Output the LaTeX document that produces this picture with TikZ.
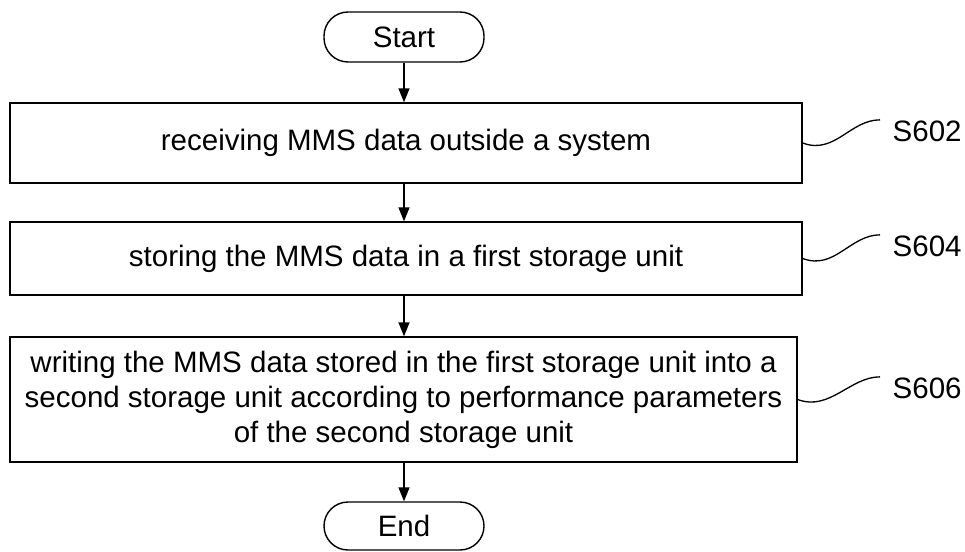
\documentclass[tikz,border=0pt]{standalone}
\usepackage{fontspec}
\setmainfont{Liberation Sans}
\usetikzlibrary{arrows.meta}

\begin{document}
\begin{tikzpicture}[x=1pt, y=-1pt, line width=1.4pt,
        every node/.style={font=\fontsize{29.5}{35}\selectfont},
        term/.style={draw, rounded corners=24pt, minimum width=160pt, minimum height=50pt, inner sep=0pt},
        stepbox/.style={draw, align=center, inner sep=0pt},
        steplabel/.style={anchor=west, inner sep=0pt},
        flow/.style={-{Triangle[length=14pt, width=11pt]}},
        lead/.style={line width=1.3pt}]
            \useasboundingbox (0,0) rectangle (965,551);

            \node[term] (Start) at (404,37) {Start};
            \node[stepbox, minimum width=792pt, minimum height=80pt] (S602) at (406,143) {receiving MMS data outside a system};
            \node[stepbox, minimum width=792pt, minimum height=73pt] (S604) at (406,258.5) {storing the MMS data in a first storage unit};
            \node[stepbox, minimum width=787pt, minimum height=125pt] (S606) at (403.5,399.5) {writing the MMS data stored in the first storage unit into a\\second storage unit according to performance parameters\\of the second storage unit};
            \node[term, minimum height=48pt] (End) at (404,526) {End};

            \node[steplabel] (L602) at (892,131) {S602};
            \node[steplabel] (L604) at (892,246) {S604};
            \node[steplabel] (L606) at (892,388) {S606};

            \draw[flow] (Start) -- (Start |- S602.north);
            \draw[flow] (S602.south -| Start) -- (Start |- S604.north);
            \draw[flow] (S604.south -| Start) -- (Start |- S606.north);
            \draw[flow] (S606.south -| Start) -- (End);

            \draw[lead] (S602.east) .. controls +(32,12) and +(-30,0) .. ([xshift=-12pt]L602.north west);
            \draw[lead] (S604.east) .. controls +(32,12) and +(-30,0) .. ([xshift=-12pt]L604.north west);
            \draw[lead] (S606.east) .. controls +(32,12) and +(-30,0) .. ([xshift=-12pt]L606.north west);
        \end{tikzpicture}
\end{document}
